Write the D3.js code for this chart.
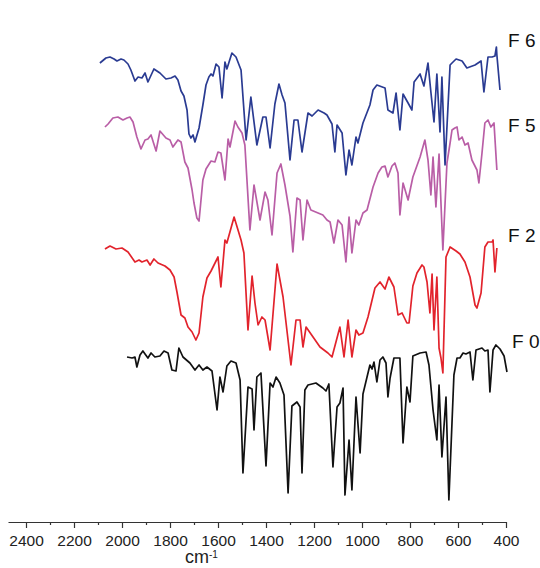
<!DOCTYPE html>
<html>
<head>
<meta charset="utf-8">
<script src="https://cdn.jsdelivr.net/npm/d3@7"></script>
<style>
  body { margin: 0; background: #fff; }
  text { font-family: "Liberation Sans", Arial, sans-serif; }
</style>
</head>
<body>
<div id="chart"></div>
<script>
// FTIR spectra, [wavenumber cm-1, intensity a.u. (stacked)]
const f6 = [[2092,459],[2067,464],[2050,465],[2033,463],[2021,461],[2004,463],[1992,462],[1975,458],[1963,452],[1946,441],[1933,445],[1917,444],[1904,449],[1892,440],[1867,453],[1842,449],[1817,443],[1796,444],[1779,446],[1767,442],[1754,431],[1742,426],[1729,412],[1721,388],[1713,384],[1704,387],[1696,380],[1679,394],[1663,417],[1650,437],[1638,445],[1629,448],[1621,446],[1608,458],[1596,455],[1583,424],[1571,460],[1563,453],[1542,469],[1525,465],[1504,452],[1483,382],[1463,425],[1438,377],[1413,405],[1400,405],[1383,374],[1363,418],[1346,438],[1333,427],[1321,419],[1300,362],[1283,402],[1267,402],[1250,370],[1225,409],[1208,406],[1183,412],[1158,409],[1146,407],[1125,398],[1113,370],[1104,397],[1083,389],[1067,347],[1054,372],[1042,357],[1025,385],[1017,379],[996,399],[967,417],[954,432],[938,437],[904,434],[892,412],[871,409],[858,429],[842,392],[829,428],[808,419],[792,412],[783,440],[758,448],[742,436],[725,459],[713,430],[700,400],[688,448],[675,390],[667,445],[654,357],[633,457],[625,459],[608,463],[583,461],[563,454],[529,457],[504,461],[492,430],[475,465],[458,465],[446,466],[440,475],[438,467],[425,432]];

const f5 = [[2071,395],[2058,398],[2038,404],[2017,405],[1996,402],[1979,404],[1967,405],[1954,400],[1938,385],[1921,373],[1904,382],[1892,383],[1879,387],[1858,371],[1842,391],[1817,384],[1800,382],[1788,375],[1767,382],[1754,380],[1738,360],[1725,354],[1708,332],[1700,319],[1688,304],[1679,301],[1663,342],[1650,353],[1629,361],[1613,360],[1600,370],[1588,369],[1571,342],[1558,383],[1550,375],[1529,401],[1517,395],[1500,389],[1488,377],[1467,292],[1450,337],[1425,302],[1404,330],[1392,322],[1375,287],[1354,349],[1338,358],[1321,337],[1300,306],[1288,270],[1271,324],[1258,322],[1246,282],[1229,322],[1213,312],[1183,309],[1163,307],[1146,302],[1133,300],[1117,279],[1100,302],[1083,297],[1067,260],[1054,305],[1042,269],[1025,302],[1013,297],[996,309],[979,312],[954,335],[933,349],[917,355],[904,356],[892,345],[875,356],[863,359],[850,349],[842,307],[829,339],[808,322],[788,345],[758,365],[738,382],[725,362],[713,327],[704,365],[692,315],[679,368],[671,319],[663,272],[646,359],[633,379],[625,392],[613,394],[604,395],[596,382],[583,385],[571,377],[558,379],[542,362],[521,352],[513,339],[500,369],[488,399],[475,402],[463,395],[450,399],[438,352]];

const f2 = [[2071,273],[2050,276],[2025,273],[2000,274],[1975,270],[1946,260],[1929,262],[1917,260],[1896,262],[1883,257],[1867,263],[1850,259],[1821,256],[1800,252],[1783,245],[1771,230],[1754,207],[1738,204],[1725,195],[1708,190],[1692,182],[1679,189],[1663,225],[1646,244],[1629,251],[1600,265],[1588,235],[1571,282],[1563,279],[1533,305],[1504,282],[1492,269],[1475,192],[1458,246],[1446,219],[1433,197],[1417,205],[1404,202],[1383,172],[1354,258],[1329,225],[1296,157],[1275,202],[1258,202],[1246,175],[1233,195],[1204,185],[1175,175],[1142,169],[1125,165],[1092,195],[1075,165],[1058,202],[1042,165],[1025,192],[1013,187],[996,189],[975,205],[946,234],[925,240],[904,233],[888,245],[867,235],[850,207],[833,209],[813,199],[804,199],[788,236],[771,249],[750,257],[742,255],[729,240],[717,209],[708,248],[700,192],[688,245],[679,174],[671,164],[663,149],[650,265],[633,275],[608,271],[592,268],[571,260],[550,245],[529,217],[521,214],[504,229],[488,275],[475,280],[458,280],[454,282],[446,250],[438,274]];

const f0 = [[1979,165],[1958,164],[1946,165],[1938,155],[1925,167],[1913,171],[1892,164],[1879,169],[1863,165],[1842,166],[1825,171],[1808,169],[1792,152],[1775,151],[1763,174],[1746,165],[1717,159],[1696,152],[1679,157],[1663,152],[1646,155],[1625,151],[1604,112],[1592,145],[1579,130],[1563,156],[1546,161],[1525,159],[1508,142],[1496,49],[1475,135],[1458,133],[1450,92],[1438,145],[1421,149],[1400,56],[1383,139],[1371,135],[1358,145],[1342,139],[1325,127],[1308,29],[1292,116],[1271,120],[1258,115],[1250,49],[1238,132],[1225,137],[1192,139],[1163,134],[1150,131],[1138,138],[1121,55],[1104,115],[1092,119],[1079,134],[1071,27],[1054,82],[1042,32],[1025,125],[1008,69],[996,128],[979,145],[967,157],[958,153],[950,160],[938,140],[925,162],[913,165],[900,159],[892,125],[883,144],[867,164],[842,164],[829,79],[813,135],[800,120],[788,166],[758,169],[733,170],[721,157],[704,112],[688,82],[679,137],[667,65],[650,125],[638,22],[617,147],[604,164],[592,164],[579,169],[567,168],[550,170],[538,142],[525,172],[500,174],[488,171],[475,172],[467,130],[454,172],[442,177],[425,173],[408,166],[396,150]];

const seriesData   = [f6, f5, f2, f0];
const seriesNames  = ["F 6", "F 5", "F 2", "F 0"];
const seriesColors = ["#2a3b92", "#b95ea6", "#e2232c", "#111111"];
const labelLevels  = [475, 390, 280, 174];

const majorTicks = [2400, 2200, 2000, 1800, 1600, 1400, 1200, 1000, 800, 600, 400];
const minorTicks = [2300, 2100, 1900, 1700, 1500, 1300, 1100, 900, 700, 500];

const width = 540, height = 568;

const svg = d3.select("#chart").append("svg")
    .attr("width", width)
    .attr("height", height);

const x = d3.scaleLinear().domain([2475, 400]).range([8, 506]);
const y = d3.scaleLinear().domain([0, 500]).range([522, 22]);

/// Axis ///
const axisG = svg.append("g")
    .attr("transform", "translate(0," + y(0) + ")");

axisG.call(d3.axisBottom(x)
        .tickValues(majorTicks)
        .tickSize(6)
        .tickSizeOuter(0)
        .tickPadding(7)
        .tickFormat(d3.format("d")));

axisG.selectAll("text")
    .attr("font-size", "15.5px")
    .attr("fill", "#222")
    .style("font-family", "'Liberation Sans', Arial, sans-serif");
axisG.selectAll("path, line").attr("stroke", "#333").attr("stroke-width", 1.2);

const minorG = svg.append("g")
    .attr("transform", "translate(0," + y(0) + ")")
    .call(d3.axisBottom(x).tickValues(minorTicks).tickSize(3).tickFormat(""));
minorG.select(".domain").remove();
minorG.selectAll("line").attr("stroke", "#333").attr("stroke-width", 1.2);

// axis title
const title = svg.append("text")
    .attr("x", 185)
    .attr("y", 563)
    .attr("font-size", "18px")
    .attr("fill", "#222");
title.append("tspan").text("cm");
title.append("tspan").attr("font-size", "10px").attr("dy", -5).text("-1");

/// Spectra ///
const line = d3.line()
    .x(d => x(d[0]))
    .y(d => y(d[1]));

seriesData.forEach((data, i) => {
    svg.append("path")
        .datum(data)
        .attr("fill", "none")
        .attr("stroke", seriesColors[i])
        .attr("stroke-width", 1.7)
        .attr("stroke-linejoin", "round")
        .attr("d", line);

    svg.append("text")
        .attr("x", x(400) + (i === 3 ? 6 : 2))
        .attr("y", y(labelLevels[i]))
        .attr("font-size", "19px")
        .attr("fill", "#111")
        .text(seriesNames[i]);
});
</script>
</body>
</html>
